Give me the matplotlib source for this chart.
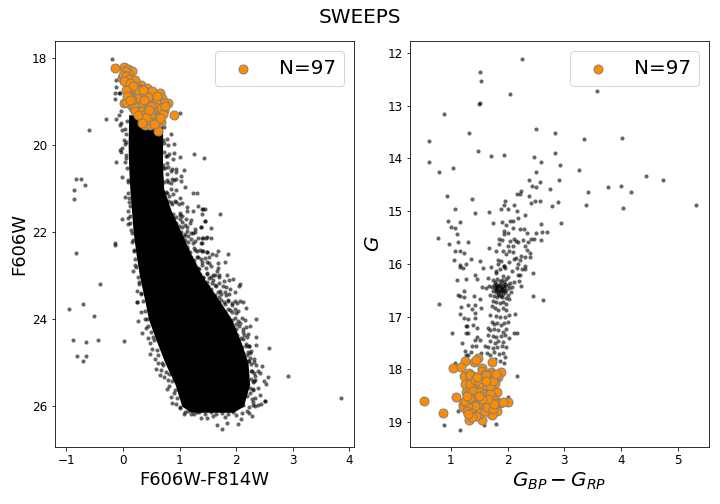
#!/usr/bin/env python
# -*- coding: utf-8 -*-

import numpy as np
import matplotlib
matplotlib.use('Agg')
import matplotlib.pyplot as plt

# left panel, solid part of the main sequence (edges)
core_mag = [19.3, 20.0, 20.5, 21.0, 21.5, 22.0, 22.5, 23.0, 23.6, 24.0, 24.5, 25.0, 25.5, 26.0, 26.14]
core_left = [0.10, 0.09, 0.10, 0.12, 0.15, 0.18, 0.23, 0.29, 0.39, 0.45, 0.59, 0.74, 0.92, 1.04, 1.20]
core_right = [0.70, 0.70, 0.70, 0.72, 0.85, 1.03, 1.20, 1.40, 1.72, 1.92, 2.08, 2.21, 2.24, 2.13, 1.95]

# left panel, stars outside the solid part
hst_stars = [
    (-0.19, 18.02), (-0.12, 18.50), (-0.12, 18.66), (-0.14, 18.79), (-0.08, 18.79), (-0.05, 18.79),
    (-0.14, 18.94), (1.00, 19.26), (-0.03, 19.21), (-0.08, 19.31), (-0.12, 19.40), (-0.30, 19.40),
    (-0.03, 19.49), (-0.01, 19.64), (-0.05, 19.54), (-0.60, 19.65), (0.01, 19.88), (0.85, 19.74),
    (0.71, 19.88), (0.91, 19.97), (0.80, 20.00), (-0.05, 20.11), (-0.01, 20.06), (-0.03, 20.16),
    (0.91, 20.18), (0.78, 20.25), (1.01, 20.27), (1.26, 20.20), (1.44, 20.30), (-0.12, 20.39),
    (0.04, 20.39), (0.89, 20.32), (0.78, 20.41), (0.94, 20.55), (1.08, 20.57), (0.84, 20.59),
    (0.71, 20.52), (-0.01, 20.72), (-0.83, 20.78), (-0.74, 20.78), (-0.67, 20.92), (-0.86, 21.03),
    (-0.86, 21.24), (0.04, 21.19), (0.11, 21.21), (0.09, 21.51), (0.08, 21.67), (-0.01, 21.70),
    (0.09, 21.81), (-0.14, 22.25), (-0.14, 22.29), (0.15, 22.23), (-0.84, 22.48), (0.18, 22.89),
    (-0.40, 23.19), (0.24, 23.35), (0.25, 23.60), (-0.70, 23.65), (-0.95, 23.77), (-0.52, 23.93),
    (-0.88, 24.48), (-0.65, 24.53), (-0.45, 24.48), (0.01, 24.50), (-0.81, 24.85), (-0.65, 24.85),
    (-0.70, 24.96), (0.78, 20.66), (0.94, 20.62), (1.03, 20.71), (0.87, 20.78), (0.94, 20.78),
    (1.03, 20.82), (0.80, 20.85), (1.10, 20.96), (0.71, 21.10), (0.78, 21.10), (0.84, 21.01),
    (0.94, 21.03), (1.24, 21.10), (1.30, 21.10), (1.01, 21.21), (0.75, 21.24), (0.92, 21.28),
    (0.84, 21.31), (1.05, 21.33), (1.14, 21.42), (1.33, 21.40), (1.40, 21.47), (1.45, 21.47),
    (1.40, 21.58), (1.24, 21.51), (1.14, 21.51), (1.00, 21.56), (1.45, 21.74), (1.21, 21.72),
    (1.12, 21.70), (1.01, 21.70), (0.89, 21.67), (1.28, 21.93), (1.38, 21.88), (1.14, 21.88),
    (1.05, 21.88), (0.89, 21.88), (1.33, 22.13), (1.49, 22.11), (1.42, 22.13), (1.24, 22.02),
    (1.15, 22.09), (1.07, 22.09), (0.98, 22.13), (1.24, 22.25), (1.38, 22.25), (1.49, 22.46),
    (1.42, 22.43), (1.28, 22.41), (1.14, 22.34), (1.03, 22.34), (1.15, 22.57), (1.31, 22.57),
    (1.49, 22.69), (1.40, 22.69), (1.26, 22.71), (1.49, 22.94), (1.35, 22.85), (1.24, 22.82),
    (1.14, 22.85), (1.49, 23.15), (1.42, 23.05), (1.28, 23.05), (1.35, 23.19), (1.49, 23.40),
    (1.42, 21.47), (1.72, 21.58), (1.45, 21.74), (1.56, 21.90), (1.38, 21.88), (1.40, 22.13),
    (1.47, 22.13), (1.56, 22.13), (1.40, 22.25), (1.40, 22.43), (1.49, 22.46), (1.58, 22.50),
    (1.65, 22.52), (1.68, 22.43), (1.86, 22.50), (1.52, 22.57), (1.81, 22.69), (1.68, 22.71),
    (1.52, 22.71), (1.68, 22.82), (1.67, 22.89), (1.84, 22.98), (1.70, 22.98), (1.60, 22.98),
    (1.95, 23.08), (1.88, 23.10), (1.79, 23.12), (2.07, 23.19), (2.05, 23.24), (1.83, 23.26),
    (1.90, 23.31), (1.98, 23.38), (1.83, 23.44), (2.07, 23.58), (2.13, 23.60), (2.02, 23.63),
    (1.86, 23.58), (1.93, 23.67), (2.18, 23.74), (1.60, 23.10), (1.52, 23.05), (1.65, 23.24),
    (1.72, 23.35), (1.55, 23.30), (1.70, 23.50), (1.78, 23.60), (1.90, 23.80), (2.00, 23.85),
    (2.36, 24.00), (2.07, 24.09), (2.25, 24.16), (2.21, 24.34), (2.36, 24.41), (2.36, 24.59),
    (2.59, 24.66), (2.13, 24.46), (2.18, 24.62), (2.23, 24.62), (2.21, 24.76), (2.27, 24.73),
    (2.32, 24.92), (2.23, 24.96), (2.36, 25.05), (2.46, 25.08), (2.39, 25.19), (2.43, 25.24),
    (2.57, 25.33), (2.92, 25.31), (2.34, 25.31), (2.34, 25.40), (2.50, 25.42), (2.53, 25.49),
    (2.30, 25.61), (2.43, 25.74), (2.34, 25.81), (2.51, 25.88), (2.51, 25.89), (2.44, 25.95),
    (2.39, 25.97), (2.34, 26.00), (3.86, 25.81), (2.28, 26.23), (2.23, 26.16), (2.09, 26.30),
    (2.04, 26.41), (1.84, 26.39), (1.67, 26.43), (1.75, 26.53), (1.49, 26.27), (1.38, 26.27),
    (0.25, 23.61), (0.31, 23.84), (0.27, 24.04), (0.34, 24.32), (0.39, 24.00), (0.45, 24.16),
    (0.45, 24.43), (0.47, 24.55), (0.54, 24.48), (0.52, 24.69), (0.47, 24.80), (0.57, 24.92),
    (0.61, 25.01), (0.59, 25.15), (0.68, 25.17), (0.66, 25.28), (0.73, 25.33), (0.82, 25.26),
    (0.82, 25.54), (0.77, 25.61), (0.85, 25.79), (0.87, 25.93), (0.94, 25.95), (1.07, 26.18),
    (1.15, 26.11), (1.31, 26.14), (0.40, 24.20), (0.50, 24.30), (0.60, 24.70), (0.70, 25.05),
    (0.80, 25.40), (0.90, 25.70), (1.00, 26.05), (1.20, 26.18), (1.60, 26.22), (1.80, 26.25),
    (2.00, 26.20), (2.10, 26.15), (2.20, 26.10), (2.30, 25.90), (2.25, 25.70), (2.30, 25.45),
    (2.28, 25.20), (2.24, 24.90), (2.12, 24.30), (2.00, 24.10), (1.92, 24.20), (1.75, 23.85),
    (1.60, 23.60), (1.45, 23.35), (1.30, 23.15), (1.18, 22.95), (1.05, 22.65), (0.95, 22.30),
    (0.85, 22.05), (0.80, 21.80), (0.22, 22.75), (0.28, 23.15), (0.32, 23.40), (0.20, 22.40),
    (0.14, 21.95), (0.12, 21.40), (0.08, 20.85), (0.06, 20.30), (0.05, 19.75), (0.07, 19.45),
]

# left panel, the crowded fringe next to the solid part
hst_fringe = [
    (0.03, 19.62), (0.72, 19.58), (0.06, 19.92), (0.03, 19.98), (0.72, 19.95), (0.78, 19.86),
    (0.05, 20.22), (0.72, 20.16), (0.76, 20.24), (0.82, 20.20), (0.07, 20.52), (0.70, 20.46),
    (0.75, 20.53), (0.80, 20.49), (0.86, 20.55), (0.09, 20.81), (0.68, 20.77), (0.72, 20.84),
    (0.78, 20.79), (0.84, 20.86), (0.90, 20.80), (0.09, 21.11), (0.66, 21.06), (0.71, 21.14),
    (0.76, 21.08), (0.82, 21.16), (0.88, 21.12), (0.10, 21.30), (0.70, 21.26), (0.76, 21.34),
    (0.80, 21.28), (0.86, 21.36), (0.93, 21.30), (0.99, 21.35), (0.12, 21.62), (0.76, 21.56),
    (0.82, 21.64), (0.88, 21.58), (0.94, 21.66), (1.00, 21.60), (1.05, 21.63), (0.13, 21.79),
    (0.82, 21.76), (0.88, 21.84), (0.93, 21.78), (0.99, 21.85), (1.04, 21.77), (1.10, 21.83),
    (1.18, 21.79), (0.15, 22.02), (0.92, 21.97), (0.98, 22.04), (1.03, 21.99), (1.09, 22.05),
    (1.14, 21.98), (1.21, 22.03), (1.28, 22.00), (0.17, 22.18), (0.97, 22.16), (1.03, 22.24),
    (1.09, 22.17), (1.15, 22.23), (1.20, 22.16), (1.27, 22.21), (0.19, 22.43), (1.02, 22.37),
    (1.08, 22.44), (1.13, 22.38), (1.19, 22.45), (1.25, 22.37), (1.31, 22.43), (1.37, 22.40),
    (0.21, 22.62), (1.08, 22.57), (1.14, 22.64), (1.20, 22.58), (1.26, 22.65), (1.32, 22.57),
    (1.38, 22.62), (1.45, 22.59), (0.23, 22.79), (1.15, 22.76), (1.21, 22.84), (1.27, 22.77),
    (1.33, 22.83), (1.40, 22.76), (1.47, 22.82), (1.55, 22.78), (0.26, 23.02), (1.24, 22.96),
    (1.30, 23.03), (1.36, 22.97), (1.42, 23.04), (1.48, 22.97), (1.55, 23.03), (1.62, 22.98),
    (1.69, 23.02), (0.28, 23.19), (1.33, 23.16), (1.39, 23.24), (1.45, 23.17), (1.51, 23.23),
    (1.57, 23.16), (1.63, 23.22), (1.70, 23.17), (1.77, 23.23), (0.31, 23.42), (1.44, 23.36),
    (1.50, 23.43), (1.56, 23.37), (1.62, 23.44), (1.68, 23.37), (1.74, 23.43), (1.80, 23.38),
    (1.88, 23.42), (0.35, 23.58), (1.62, 23.56), (1.68, 23.63), (1.74, 23.57), (1.80, 23.64),
    (1.86, 23.57), (1.92, 23.62), (1.98, 23.58), (0.38, 23.82), (1.74, 23.76), (1.80, 23.83),
    (1.86, 23.77), (1.92, 23.84), (1.98, 23.77), (2.04, 23.82), (0.42, 23.99), (1.86, 23.96),
    (1.92, 24.03), (1.98, 23.97), (2.04, 24.04), (2.10, 23.97), (2.16, 24.02), (1.94, 24.17),
    (2.00, 24.23), (2.06, 24.16), (2.12, 24.22), (2.18, 24.18), (0.53, 24.41), (2.02, 24.37),
    (2.08, 24.43), (2.14, 24.37), (2.20, 24.42), (2.05, 24.58), (2.11, 24.63), (2.17, 24.57),
    (2.22, 24.62), (0.62, 24.82), (2.13, 24.77), (2.19, 24.83), (2.25, 24.78), (0.69, 25.01),
    (2.21, 24.97), (2.27, 25.03), (2.32, 24.98), (0.76, 25.22), (2.26, 25.18), (2.31, 25.23),
    (0.86, 25.41), (2.26, 25.37), (2.31, 25.43), (0.92, 25.62), (2.24, 25.58), (2.30, 25.63),
    (2.38, 25.58), (0.96, 25.81), (2.20, 25.77), (2.28, 25.83), (1.00, 26.01), (2.13, 25.98),
    (2.22, 26.03), (2.30, 25.97), (1.10, 26.14), (1.25, 26.17), (1.35, 26.13), (1.45, 26.18),
    (1.55, 26.14), (1.65, 26.19), (1.75, 26.15), (1.85, 26.18), (1.95, 26.14),
]

# left panel, selected stars
hst_sel = [
    (-0.14, 18.23), (0.02, 18.20), (0.08, 18.25), (0.15, 18.30), (0.08, 18.34), (-0.01, 18.46),
    (0.09, 18.64), (0.18, 18.57), (0.31, 18.62), (0.43, 18.69), (0.18, 18.76), (0.29, 18.80),
    (0.09, 18.80), (0.36, 18.87), (0.55, 18.87), (0.66, 18.80), (0.69, 18.92), (0.80, 19.03),
    (0.64, 19.08), (0.73, 19.19), (0.91, 19.31), (0.01, 19.03), (0.09, 18.94), (0.24, 18.99),
    (0.48, 18.99), (0.54, 18.96), (0.18, 19.15), (0.27, 19.15), (0.48, 19.24), (0.62, 19.24),
    (0.31, 19.35), (0.43, 19.31), (0.55, 19.40), (0.68, 19.47), (0.38, 19.54), (0.48, 19.54),
    (0.61, 19.67), (0.03, 18.30), (0.00, 18.38), (0.05, 18.42), (0.10, 18.47), (0.02, 18.52),
    (0.22, 18.50), (0.25, 18.66), (0.30, 18.70), (0.14, 18.70), (0.21, 18.85), (0.15, 18.90),
    (0.33, 18.92), (0.40, 18.78), (0.47, 18.82), (0.52, 18.75), (0.60, 18.92), (0.65, 18.98),
    (0.72, 19.02), (0.58, 19.02), (0.42, 19.05), (0.36, 19.10), (0.30, 19.05), (0.13, 19.05),
    (0.06, 19.00), (0.20, 19.08), (0.22, 19.22), (0.33, 19.22), (0.38, 19.28), (0.52, 19.18),
    (0.57, 19.12), (0.67, 19.14), (0.70, 19.28), (0.61, 19.34), (0.50, 19.34), (0.45, 19.42),
    (0.36, 19.44), (0.40, 19.36), (0.62, 19.50), (0.58, 19.47), (0.66, 19.38), (0.28, 18.90),
    (0.24, 18.92), (0.11, 18.87), (0.16, 18.97), (0.44, 18.90), (0.37, 18.96), (0.50, 19.10),
    (0.27, 18.74), (0.12, 18.58), (0.17, 18.64), (0.35, 18.72), (0.05, 18.72), (0.07, 18.88),
    (0.60, 18.86), (0.75, 19.10), (0.54, 19.52), (0.34, 19.48), (0.26, 19.30), (0.12, 18.97),
    (0.46, 19.20),
]

# right panel, stars
gaia_stars = [
    (2.26, 12.12), (1.52, 12.37), (1.53, 12.54), (2.04, 12.77), (1.52, 12.94), (1.50, 12.97),
    (0.88, 13.16), (2.50, 13.45), (2.84, 13.51), (1.32, 13.51), (0.62, 13.66), (1.48, 13.85),
    (1.71, 13.96), (1.94, 13.94), (2.47, 13.98), (2.84, 13.89), (2.59, 14.06), (0.62, 14.06),
    (2.92, 14.13), (0.79, 14.25), (1.04, 14.19), (2.50, 14.25), (2.38, 14.41), (2.91, 14.41),
    (3.58, 12.73), (3.35, 13.64), (4.02, 13.62), (3.26, 14.21), (4.44, 14.34), (4.74, 14.40),
    (3.42, 14.64), (3.77, 14.55), (4.00, 14.53), (4.17, 14.64), (2.89, 14.83), (3.38, 14.89),
    (4.03, 14.93), (5.32, 14.89), (2.57, 14.45), (2.43, 14.53), (2.50, 14.55), (2.75, 14.57),
    (2.24, 14.61), (2.17, 14.68), (2.22, 14.68), (2.38, 14.72), (0.94, 14.72), (1.38, 14.76),
    (2.48, 14.80), (2.57, 14.81), (2.41, 14.85), (2.78, 14.91), (1.96, 14.80), (1.94, 14.89),
    (1.89, 14.95), (2.00, 14.95), (2.11, 14.89), (2.17, 14.99), (1.08, 14.95), (1.43, 15.04),
    (1.67, 15.02), (2.31, 15.08), (2.19, 15.12), (0.95, 15.19), (1.16, 15.21), (1.01, 15.29),
    (1.08, 15.31), (1.75, 15.23), (1.90, 15.21), (2.04, 15.19), (2.10, 15.19), (1.97, 15.27),
    (2.59, 15.25), (2.94, 15.23), (2.10, 15.31), (2.22, 15.33), (2.29, 15.33), (1.94, 15.38),
    (2.01, 15.42), (1.94, 15.44), (1.11, 15.44), (2.34, 15.42), (2.50, 15.42), (2.61, 15.40),
    (2.70, 15.40), (0.78, 15.50), (1.85, 15.52), (1.90, 15.54), (2.11, 15.52), (2.47, 15.52),
    (2.41, 15.52), (2.59, 15.55), (1.13, 15.59), (1.31, 15.59), (0.97, 15.63), (1.85, 15.63),
    (2.04, 15.57), (2.15, 15.57), (2.27, 15.55), (2.19, 15.59), (2.36, 15.59), (2.00, 15.65),
    (2.10, 15.65), (2.31, 15.65), (1.67, 15.69), (1.08, 15.76), (1.16, 15.76), (1.23, 15.80),
    (1.80, 15.76), (1.92, 15.76), (2.03, 15.76), (2.34, 15.74), (2.10, 15.78), (1.97, 15.82),
    (2.40, 15.80), (2.31, 15.86), (2.40, 15.86), (2.24, 15.84), (2.15, 15.88), (2.11, 15.90),
    (1.36, 15.90), (1.06, 15.93), (1.52, 15.95), (1.83, 15.92), (1.89, 15.95), (1.83, 16.00),
    (2.22, 15.93), (2.19, 16.00), (1.27, 16.00), (1.16, 16.01), (1.22, 16.07), (1.16, 16.05),
    (1.94, 16.03), (1.94, 16.04), (2.03, 15.97), (1.57, 16.07), (1.71, 16.05), (1.80, 16.14),
    (1.87, 16.10), (1.96, 16.07), (2.17, 16.07), (2.31, 16.03), (2.26, 16.09), (2.31, 16.09),
    (2.08, 16.14), (2.45, 16.18), (2.19, 16.20), (2.22, 16.20), (1.43, 16.20), (1.46, 16.29),
    (1.11, 16.31), (1.27, 16.28), (1.66, 16.26), (1.80, 16.18), (1.92, 16.22), (2.00, 16.24),
    (1.75, 16.30), (1.78, 16.34), (1.82, 16.28), (1.86, 16.32), (1.90, 16.30), (1.94, 16.34),
    (1.98, 16.28), (1.76, 16.40), (1.80, 16.38), (1.84, 16.42), (1.88, 16.38), (1.92, 16.42),
    (1.96, 16.38), (2.00, 16.40), (2.05, 16.36), (2.12, 16.34), (2.20, 16.32), (2.24, 16.42),
    (1.72, 16.44), (1.78, 16.46), (1.82, 16.48), (1.86, 16.46), (1.90, 16.50), (1.94, 16.46),
    (1.98, 16.50), (2.03, 16.46), (2.08, 16.44), (1.62, 16.46), (1.68, 16.42), (1.56, 16.44),
    (1.74, 16.52), (1.80, 16.54), (1.84, 16.56), (1.88, 16.54), (1.92, 16.56), (1.96, 16.54),
    (2.00, 16.58), (2.06, 16.54), (1.70, 16.58), (1.76, 16.60), (1.82, 16.62), (1.90, 16.62),
    (1.98, 16.64), (2.02, 16.66), (1.13, 16.58), (1.16, 16.60), (1.23, 16.62), (1.23, 16.52),
    (1.41, 16.60), (1.52, 16.66), (2.45, 16.60), (2.63, 16.69), (0.79, 16.75), (1.16, 16.94),
    (1.18, 16.81), (1.31, 16.77), (1.43, 16.77), (1.53, 16.84), (1.38, 16.86), (2.13, 16.94),
    (1.74, 16.70), (1.80, 16.72), (1.86, 16.74), (1.92, 16.72), (1.98, 16.76), (1.72, 16.80),
    (1.78, 16.84), (1.84, 16.88), (1.92, 16.84), (1.98, 16.88), (1.70, 16.96), (1.80, 16.98),
    (1.86, 17.00), (1.96, 17.00), (2.02, 16.96), (1.23, 17.02), (1.30, 17.04), (1.29, 17.17),
    (1.27, 17.17), (1.39, 17.15), (1.43, 17.02), (1.43, 16.92), (1.02, 17.30), (1.27, 17.30),
    (1.31, 17.30), (1.46, 17.22), (1.46, 17.38), (1.20, 17.49), (1.43, 17.45), (1.38, 17.55),
    (1.45, 17.55), (1.52, 17.45), (1.25, 17.64), (1.27, 17.72), (1.31, 17.72), (1.36, 17.66),
    (1.53, 17.68), (1.07, 17.87), (2.17, 18.13), (1.72, 17.10), (1.76, 17.14), (1.82, 17.12),
    (1.88, 17.16), (1.94, 17.12), (2.00, 17.10), (2.12, 17.30), (2.16, 17.30), (2.03, 17.40),
    (1.66, 17.22), (1.70, 17.26), (1.76, 17.24), (1.84, 17.26), (1.92, 17.28), (1.98, 17.24),
    (1.66, 17.34), (1.74, 17.36), (1.80, 17.38), (1.88, 17.36), (1.96, 17.34), (1.70, 17.46),
    (1.78, 17.50), (1.84, 17.46), (1.92, 17.48), (1.60, 17.56), (1.66, 17.58), (1.74, 17.60),
    (1.82, 17.58), (1.90, 17.56), (1.98, 17.58), (1.64, 17.68), (1.70, 17.72), (1.76, 17.66),
    (1.85, 17.70), (1.92, 17.68), (1.96, 17.76), (1.78, 17.80), (1.86, 17.84), (1.94, 17.88),
    (0.88, 19.05), (1.16, 19.14), (1.59, 19.05), (1.80, 19.03), (1.13, 18.78), (2.01, 18.53),
    (1.81, 16.41), (1.85, 16.39), (1.89, 16.44), (1.83, 16.51), (1.87, 16.52), (1.91, 16.47),
    (1.79, 16.50), (1.85, 16.58), (1.88, 16.60), (1.93, 16.52), (1.80, 16.44), (1.95, 16.42),
]

# right panel, selected stars
gaia_sel = [
    (1.25, 17.83), (1.41, 17.85), (1.48, 17.79), (1.73, 17.85), (1.04, 17.98), (1.18, 17.95),
    (1.23, 18.12), (1.32, 18.06), (1.55, 17.98), (1.71, 18.04), (1.89, 18.04), (1.39, 18.12),
    (1.39, 18.23), (1.59, 18.17), (1.73, 18.12), (1.83, 18.14), (1.25, 18.27), (1.59, 18.27),
    (1.75, 18.34), (1.48, 18.36), (1.27, 18.42), (1.66, 18.42), (1.82, 18.42), (1.45, 18.46),
    (1.09, 18.52), (0.53, 18.59), (1.55, 18.61), (1.73, 18.53), (1.87, 18.63), (2.01, 18.61),
    (1.22, 18.65), (1.22, 18.72), (1.31, 18.65), (1.71, 18.65), (1.41, 18.78), (1.53, 18.74),
    (1.82, 18.78), (1.69, 18.82), (1.73, 18.87), (0.87, 18.82), (1.32, 18.95), (1.55, 18.95),
    (1.48, 18.87), (1.45, 17.82), (1.34, 18.10), (1.56, 18.03), (1.60, 18.08), (1.72, 18.08),
    (1.78, 18.18), (1.68, 18.20), (1.72, 18.26), (1.78, 18.26), (1.34, 18.28), (1.42, 18.20),
    (1.50, 18.24), (1.55, 18.33), (1.64, 18.34), (1.70, 18.32), (1.62, 18.10), (1.30, 18.46),
    (1.36, 18.48), (1.40, 18.40), (1.52, 18.42), (1.58, 18.46), (1.62, 18.50), (1.70, 18.47),
    (1.78, 18.58), (1.40, 18.54), (1.46, 18.58), (1.36, 18.62), (1.64, 18.60), (1.58, 18.66),
    (1.48, 18.66), (1.42, 18.70), (1.30, 18.72), (1.28, 18.78), (1.36, 18.82), (1.52, 18.82),
    (1.60, 18.78), (1.64, 18.72), (1.74, 18.74), (1.44, 18.88), (1.38, 18.90), (1.26, 18.60),
    (1.80, 18.64), (1.76, 18.66), (1.92, 18.62), (1.34, 18.54), (1.30, 18.84), (1.66, 18.55),
    (1.56, 18.55), (1.28, 18.50), (1.50, 18.50), (1.74, 18.22), (1.62, 18.22), (1.46, 18.14),
    (1.80, 18.09),
]

hst_xy = np.array(hst_stars + hst_fringe)
hst_sel_xy = np.array(hst_sel)
gaia_xy = np.array(gaia_stars)
gaia_sel_xy = np.array(gaia_sel)

fig, axes = plt.subplots(1, 2, figsize=(10, 7), dpi=72)
fig.patch.set_facecolor('white')
fig.suptitle('SWEEPS', fontsize=20, y=0.985)

ax = axes[0]
ax.fill_betweenx(core_mag, core_left, core_right, color='k', lw=0)
ax.scatter(hst_xy[:, 0], hst_xy[:, 1], s=17, c='k', alpha=0.6, lw=0)
ax.scatter(hst_sel_xy[:, 0], hst_sel_xy[:, 1], s=80, c='darkorange', edgecolors='grey', lw=1, label='N=97')
ax.set_xlim(-1.212, 4.088)
ax.set_ylim(26.94, 17.6)
ax.set_xlabel('F606W-F814W', fontsize=18)
ax.set_ylabel('F606W', fontsize=18)
ax.set_xticks([-1, 0, 1, 2, 3, 4])
ax.set_yticks([18, 20, 22, 24, 26])

ax = axes[1]
ax.scatter(gaia_xy[:, 0], gaia_xy[:, 1], s=17, c='k', alpha=0.6, lw=0)
ax.scatter(gaia_sel_xy[:, 0], gaia_sel_xy[:, 1], s=80, c='darkorange', edgecolors='grey', lw=1, label='N=97')
ax.set_xlim(0.278, 5.546)
ax.set_ylim(19.47, 11.77)
ax.set_xlabel(r'$G_{BP}-G_{RP}$', fontsize=20)
ax.set_ylabel(r'$G$', fontsize=20)
ax.set_xticks([1, 2, 3, 4, 5])
ax.set_yticks([12, 13, 14, 15, 16, 17, 18, 19])

for ax in axes:
    ax.tick_params(labelsize=12)
    ax.legend(loc='upper right', fontsize=20)

fig.subplots_adjust(left=0.0757, right=0.985, top=0.919, bottom=0.113, wspace=0.185)
fig.savefig('out.png', dpi=72)
plt.close(fig)
